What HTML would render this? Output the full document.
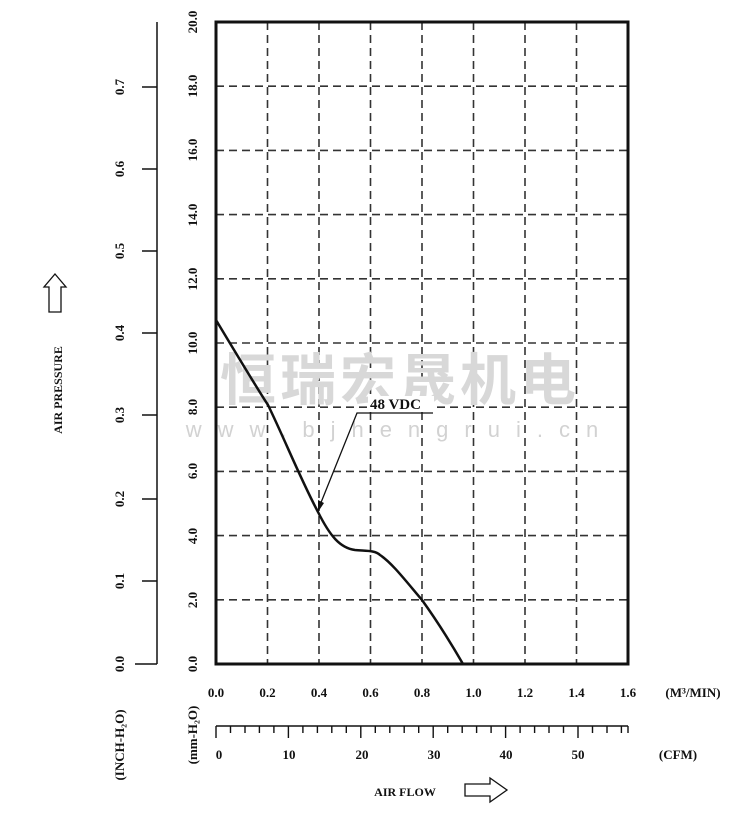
<!DOCTYPE html>
<html><head><meta charset="utf-8"><style>
html,body{margin:0;padding:0;background:#fff;}
svg{display:block;}
text{font-family:"Liberation Serif",serif;font-weight:bold;fill:#111;}
</style></head><body>
<svg width="750" height="825" viewBox="0 0 750 825" xmlns="http://www.w3.org/2000/svg">
<!-- grid -->
<g stroke="#333" stroke-width="1.6" stroke-dasharray="8,5">
<line x1="267.5" y1="22" x2="267.5" y2="664"/>
<line x1="319" y1="22" x2="319" y2="664"/>
<line x1="370.5" y1="22" x2="370.5" y2="664"/>
<line x1="422" y1="22" x2="422" y2="664"/>
<line x1="473.5" y1="22" x2="473.5" y2="664"/>
<line x1="525" y1="22" x2="525" y2="664"/>
<line x1="576.5" y1="22" x2="576.5" y2="664"/>
<line x1="216" y1="86.2" x2="628" y2="86.2"/>
<line x1="216" y1="150.4" x2="628" y2="150.4"/>
<line x1="216" y1="214.6" x2="628" y2="214.6"/>
<line x1="216" y1="278.8" x2="628" y2="278.8"/>
<line x1="216" y1="343" x2="628" y2="343"/>
<line x1="216" y1="407.2" x2="628" y2="407.2"/>
<line x1="216" y1="471.4" x2="628" y2="471.4"/>
<line x1="216" y1="535.6" x2="628" y2="535.6"/>
<line x1="216" y1="599.8" x2="628" y2="599.8"/>
</g>
<!-- watermark -->
<text x="400" y="400" text-anchor="middle" font-size="56" style="fill:#d8d8d8;font-family:'Noto Sans CJK SC',sans-serif;font-weight:bold" letter-spacing="4">恒瑞宏晟机电</text>
<text x="400" y="437" text-anchor="middle" style="fill:#d2d2d2;font-family:'Liberation Sans',sans-serif;font-weight:normal" font-size="22" letter-spacing="16">www.bjhengrui.cn</text>
<!-- box -->
<rect x="216" y="22" width="412" height="642" fill="none" stroke="#111" stroke-width="3"/>
<!-- curve -->
<path d="M216,320 C240,360 258,390 268,405 C285,440 300,478 318,512 C330,536 340,548 355,550 C365,551 375,550 380,555 C392,563 405,580 422,600 C440,625 452,645 463,664" fill="none" stroke="#111" stroke-width="2.5"/>
<!-- annotation -->
<rect x="368" y="396" width="66" height="15" fill="#fff"/>
<polyline points="433,413 357,413 318,510" fill="none" stroke="#111" stroke-width="1.3"/>
<polygon points="318,512 318,500 324,503" fill="#111"/>
<text x="370" y="409" font-size="15">48 VDC</text>
<!-- left inch axis -->
<g stroke="#111" stroke-width="1.5">
<line x1="157" y1="22" x2="157" y2="664"/>
<line x1="135" y1="664" x2="157" y2="664"/>
<line x1="142" y1="87" x2="157" y2="87"/>
<line x1="142" y1="169" x2="157" y2="169"/>
<line x1="142" y1="251" x2="157" y2="251"/>
<line x1="142" y1="333" x2="157" y2="333"/>
<line x1="142" y1="415" x2="157" y2="415"/>
<line x1="142" y1="499" x2="157" y2="499"/>
<line x1="142" y1="581" x2="157" y2="581"/>
</g>
<g font-size="13" text-anchor="middle">
<text transform="translate(124,87) rotate(-90)">0.7</text>
<text transform="translate(124,169) rotate(-90)">0.6</text>
<text transform="translate(124,251) rotate(-90)">0.5</text>
<text transform="translate(124,333) rotate(-90)">0.4</text>
<text transform="translate(124,415) rotate(-90)">0.3</text>
<text transform="translate(124,499) rotate(-90)">0.2</text>
<text transform="translate(124,581) rotate(-90)">0.1</text>
<text transform="translate(124,664) rotate(-90)">0.0</text>
<text transform="translate(197,22) rotate(-90)">20.0</text>
<text transform="translate(197,86) rotate(-90)">18.0</text>
<text transform="translate(197,150) rotate(-90)">16.0</text>
<text transform="translate(197,215) rotate(-90)">14.0</text>
<text transform="translate(197,279) rotate(-90)">12.0</text>
<text transform="translate(197,343) rotate(-90)">10.0</text>
<text transform="translate(197,407) rotate(-90)">8.0</text>
<text transform="translate(197,471) rotate(-90)">6.0</text>
<text transform="translate(197,536) rotate(-90)">4.0</text>
<text transform="translate(197,600) rotate(-90)">2.0</text>
<text transform="translate(197,664) rotate(-90)">0.0</text>
<text transform="translate(124,745) rotate(-90)">(INCH-H₂O)</text>
<text transform="translate(197,735) rotate(-90)">(mm-H₂O)</text>
<text transform="translate(62,390) rotate(-90)" font-size="12">AIR PRESSURE</text>
</g>
<!-- up arrow -->
<polygon points="55,274 66,287 61,287 61,312 49,312 49,287 44,287" fill="#fff" stroke="#111" stroke-width="1.3"/>
<!-- x labels -->
<g font-size="13" text-anchor="middle">
<text x="216" y="697">0.0</text><text x="267.5" y="697">0.2</text><text x="319" y="697">0.4</text>
<text x="370.5" y="697">0.6</text><text x="422" y="697">0.8</text><text x="473.5" y="697">1.0</text>
<text x="525" y="697">1.2</text><text x="576.5" y="697">1.4</text><text x="628" y="697">1.6</text>
<text x="693" y="697">(M³/MIN)</text>
<text x="219" y="759">0</text><text x="289" y="759">10</text><text x="362" y="759">20</text>
<text x="434" y="759">30</text><text x="506" y="759">40</text><text x="578" y="759">50</text>
<text x="678" y="759">(CFM)</text>
<text x="405" y="796" font-size="12">AIR FLOW</text>
</g>
<!-- CFM scale -->
<g stroke="#111" stroke-width="1.4">
<line x1="216" y1="726" x2="628" y2="726"/>
<path d="M216,726v12 M230.5,726v7 M245,726v7 M259.4,726v7 M273.9,726v7 M288.4,726v12 M302.9,726v7 M317.4,726v7 M331.8,726v7 M346.3,726v7 M360.8,726v12 M375.3,726v7 M389.8,726v7 M404.2,726v7 M418.7,726v7 M433.2,726v12 M447.7,726v7 M462.2,726v7 M476.6,726v7 M491.1,726v7 M505.6,726v12 M520.1,726v7 M534.6,726v7 M549,726v7 M563.5,726v7 M578,726v12 M592.5,726v7 M607,726v7 M621.4,726v7 M628,726v7"/>
</g>
<!-- right arrow -->
<polygon points="465,784 490,784 490,778 507,790 490,802 490,796 465,796" fill="#fff" stroke="#111" stroke-width="1.3"/>
</svg>
</body></html>
